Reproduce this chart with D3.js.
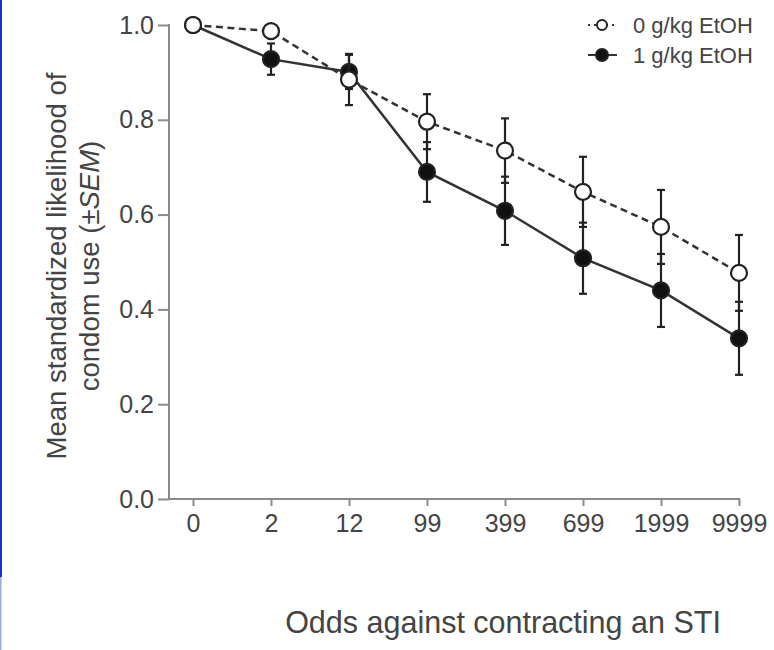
<!DOCTYPE html>
<html>
<head>
<meta charset="utf-8">
<script src="https://cdn.jsdelivr.net/npm/d3@7"></script>
<style>
  body { margin: 0; background: #fff; }
  svg { display: block; }
  text { font-family: "Liberation Sans", Arial, Helvetica, sans-serif; fill: #444; }
</style>
</head>
<body>
<div id="chart"></div>
<script>
// odds categories on the x axis
const odds = ["0", "2", "12", "99", "399", "699", "1999", "9999"];
// 0 g/kg EtOH (open circles, dashed)
const placebo = [1.0, 0.987, 0.885, 0.796, 0.735, 0.648, 0.574, 0.477];
const placeboSem = [0, 0.01, 0.054, 0.058, 0.068, 0.074, 0.078, 0.08];
// 1 g/kg EtOH (filled circles, solid)
const alcohol = [1.0, 0.928, 0.901, 0.69, 0.608, 0.508, 0.44, 0.339];
const alcoholSem = [0, 0.033, 0.036, 0.063, 0.072, 0.075, 0.077, 0.077];
const yTicks = [0, 0.2, 0.4, 0.6, 0.8, 1.0];

const width = 774;
const height = 650;

const svg = d3
  .select("#chart")
  .append("svg")
  .attr("width", width)
  .attr("height", height);

svg.append("rect").attr("width", width).attr("height", height).attr("fill", "#fff");
// scanned page edge
svg.append("rect").attr("x", 0).attr("y", 0).attr("width", 2).attr("height", 577).attr("fill", "#1b33c2");
svg.append("rect").attr("x", 0).attr("y", 577).attr("width", 1.5).attr("height", 73).attr("fill", "#9cacdf");

const x = d3.scalePoint().domain(odds).range([193, 739]);
const y = d3.scaleLinear().domain([0, 1]).range([499, 25]);
const axisX = 169;

// y axis
const yAxis = svg
  .append("g")
  .attr("transform", `translate(${axisX},0)`)
  .call(d3.axisLeft(y).tickValues(yTicks).tickFormat(d3.format(".1f")).tickSize(11).tickPadding(4));
yAxis.select(".domain").remove();
yAxis.selectAll(".tick line").attr("stroke", "#8a8a8a").attr("stroke-width", 2);
yAxis.selectAll(".tick text").style("font-size", "25px").attr("fill", "#444");
svg.append("line")
  .attr("x1", axisX).attr("x2", axisX)
  .attr("y1", y(1) - 1).attr("y2", y(0) + 1)
  .attr("stroke", "#8a8a8a").attr("stroke-width", 2);

// x axis
const xAxis = svg
  .append("g")
  .attr("transform", `translate(0,${y(0)})`)
  .call(d3.axisBottom(x).tickSize(7).tickPadding(8));
xAxis.select(".domain").remove();
xAxis.selectAll(".tick line").attr("stroke", "#8a8a8a").attr("stroke-width", 2);
xAxis.selectAll(".tick text").style("font-size", "25px").attr("fill", "#444");
svg.append("line")
  .attr("x1", axisX - 1).attr("x2", x(odds[odds.length - 1]) + 1)
  .attr("y1", y(0)).attr("y2", y(0))
  .attr("stroke", "#8a8a8a").attr("stroke-width", 2);

// axis titles
const yTitle = svg.append("text")
  .attr("transform", "translate(66,266) rotate(-90)")
  .attr("text-anchor", "middle")
  .style("font-size", "27.5px");
yTitle.append("tspan").attr("x", 0).attr("dy", 0).text("Mean standardized likelihood of");
const line2 = yTitle.append("tspan").attr("x", 0).attr("dy", 33);
line2.append("tspan").text("condom use (\u00b1");
line2.append("tspan").style("font-style", "italic").text("SEM");
line2.append("tspan").text(")");

svg.append("text")
  .attr("x", 503)
  .attr("y", 633)
  .attr("text-anchor", "middle")
  .style("font-size", "30.5px")
  .text("Odds against contracting an STI");

const series = [
  { name: "1 g/kg EtOH", values: alcohol, sem: alcoholSem, fill: "#111", dash: null },
  { name: "0 g/kg EtOH", values: placebo, sem: placeboSem, fill: "#fff", dash: "7,4.5" },
];

const line = d3.line().x((d) => x(d.cat)).y((d) => y(d.v));

series.forEach((s) => {
  const pts = odds.map((c, i) => ({ cat: c, v: s.values[i], e: s.sem[i] }));
  const g = svg.append("g");

  g.append("path")
    .datum(pts)
    .attr("d", line)
    .attr("fill", "none")
    .attr("stroke", "#333")
    .attr("stroke-width", 2.5)
    .attr("stroke-dasharray", s.dash);

  const bars = g.selectAll(".err")
    .data(pts.filter((d) => d.e > 0))
    .join("g")
    .attr("stroke", "#222")
    .attr("stroke-width", 2.2);
  bars.append("line")
    .attr("x1", (d) => x(d.cat)).attr("x2", (d) => x(d.cat))
    .attr("y1", (d) => y(d.v + d.e)).attr("y2", (d) => y(d.v - d.e));
  bars.append("line")
    .attr("x1", (d) => x(d.cat) - 4).attr("x2", (d) => x(d.cat) + 4)
    .attr("y1", (d) => y(d.v + d.e)).attr("y2", (d) => y(d.v + d.e));
  bars.append("line")
    .attr("x1", (d) => x(d.cat) - 4).attr("x2", (d) => x(d.cat) + 4)
    .attr("y1", (d) => y(d.v - d.e)).attr("y2", (d) => y(d.v - d.e));

  g.selectAll("circle")
    .data(pts)
    .join("circle")
    .attr("cx", (d) => x(d.cat))
    .attr("cy", (d) => y(d.v))
    .attr("r", 8)
    .attr("fill", s.fill)
    .attr("stroke", "#222")
    .attr("stroke-width", 2.2);
});

// legend
const legend = [
  { name: "0 g/kg EtOH", fill: "#fff", dash: "2,4", r: 5 },
  { name: "1 g/kg EtOH", fill: "#111", dash: null, r: 6 },
];
const lg = svg.selectAll(".legend")
  .data(legend)
  .join("g")
  .attr("transform", (d, i) => `translate(0,${25 + i * 30})`);
lg.append("line")
  .attr("x1", 588).attr("x2", 617)
  .attr("stroke", "#333").attr("stroke-width", 2)
  .attr("stroke-dasharray", (d) => d.dash);
lg.append("circle")
  .attr("cx", 602).attr("r", (d) => d.r)
  .attr("fill", (d) => d.fill)
  .attr("stroke", "#222").attr("stroke-width", 2);
lg.append("text")
  .attr("x", 633).attr("y", 8)
  .style("font-size", "22px")
  .text((d) => d.name);
</script>
</body>
</html>
